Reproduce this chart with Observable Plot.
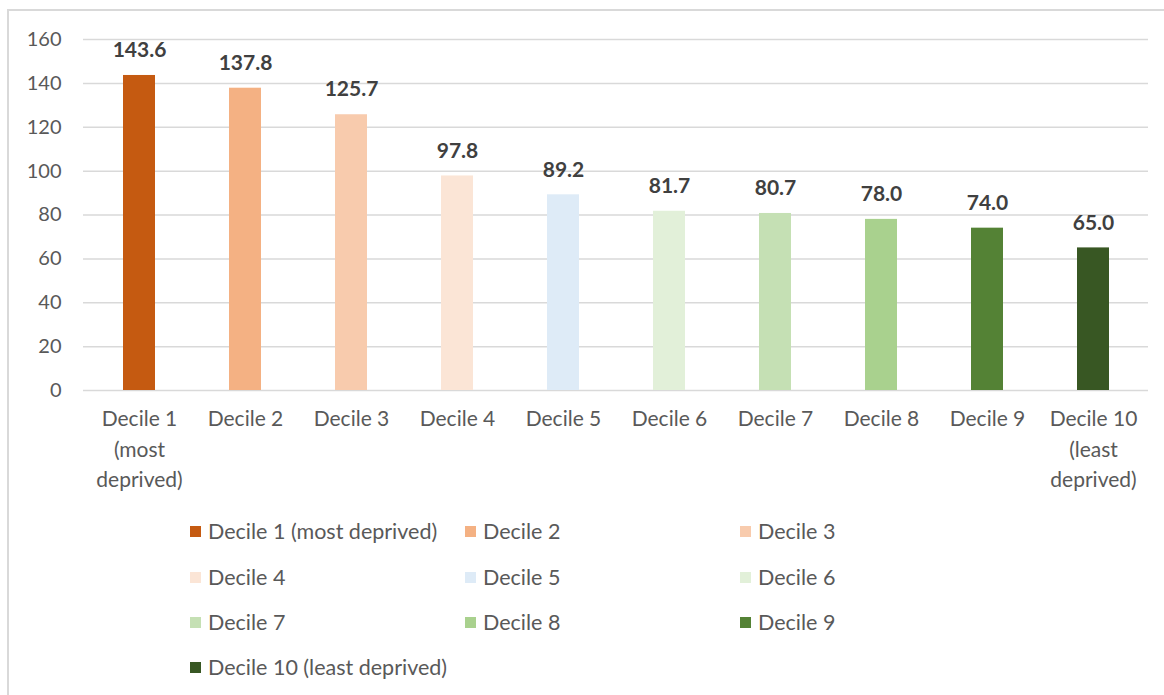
<!DOCTYPE html>
<html>
<head>
<meta charset="utf-8">
<script src="https://cdn.jsdelivr.net/npm/d3@7"></script>
<script src="https://cdn.jsdelivr.net/npm/@observablehq/plot@0.6"></script>
<style>
  html, body { margin: 0; padding: 0; background: #fff; overflow: hidden; width: 1164px; height: 695px; }
  #frame { position: absolute; left: 7px; top: 9px; width: 1300px; height: 900px; border: 2px solid #d9d9d9; box-sizing: border-box; }
  #chart { position: absolute; left: 0; top: 0; }
  #legend { position: absolute; left: 0; top: 0; font-family: Lato, sans-serif; font-size: 21.5px; color: #595959; }
  .item { position: absolute; display: flex; align-items: center; white-space: nowrap; }
  .sw { width: 11px; height: 11px; margin-right: 7px; }
</style>
</head>
<body>
<div id="frame"></div>
<div id="chart"></div>
<div id="legend"></div>
<script>
const categories = ["Decile 1", "Decile 2", "Decile 3", "Decile 4", "Decile 5", "Decile 6", "Decile 7", "Decile 8", "Decile 9", "Decile 10"];
const axisLabels = ["Decile 1\n(most\ndeprived)", "Decile 2", "Decile 3", "Decile 4", "Decile 5", "Decile 6", "Decile 7", "Decile 8", "Decile 9", "Decile 10\n(least\ndeprived)"];
const legendLabels = ["Decile 1 (most deprived)", "Decile 2", "Decile 3", "Decile 4", "Decile 5", "Decile 6", "Decile 7", "Decile 8", "Decile 9", "Decile 10 (least deprived)"];
const values = [143.6, 137.8, 125.7, 97.8, 89.2, 81.7, 80.7, 78.0, 74.0, 65.0];
const colors = ["#C55A11", "#F4B183", "#F8CBAD", "#FBE5D6", "#DEEBF7", "#E2F0D9", "#C5E0B4", "#A9D18E", "#548235", "#385723"];
const yTicks = [0, 20, 40, 60, 80, 100, 120, 140, 160];

const data = categories.map((c, i) => ({cat: c, value: values[i], color: colors[i]}));
const labelOf = new Map(categories.map((c, i) => [c, axisLabels[i]]));

const chart = Plot.plot({
  width: 1164,
  height: 500,
  marginLeft: 83,
  marginRight: 16,
  marginTop: 39,
  marginBottom: 110,
  style: {fontFamily: "Lato, sans-serif", fontSize: "21px", color: "#595959", background: "transparent"},
  x: {domain: categories, paddingInner: 0.7, paddingOuter: 0.35, label: null},
  y: {domain: [0, 160], ticks: yTicks, label: null},
  color: {type: "identity"},
  marks: [
    Plot.gridY(yTicks, {stroke: "#d9d9d9", strokeOpacity: 1, strokeWidth: 1.5}),
    Plot.barY(data, {x: "cat", y: "value", fill: "color"}),
    Plot.text(data, {x: "cat", y: "value", text: d => d.value.toFixed(1), dy: -25, fontWeight: "bold", fill: "#404040", fontSize: 21}),
    Plot.axisY({ticks: yTicks, tickSize: 0, tickPadding: 22, fill: "#595959", fontSize: 20, label: null}),
    Plot.axisX({tickSize: 0, tickPadding: 14, tickFormat: d => labelOf.get(d), lineHeight: 1.45, fill: "#595959", fontSize: 21, label: null})
  ]
});
document.getElementById("chart").appendChild(chart);

const legend = document.getElementById("legend");
const colX = [190, 465, 740];
const rowY = [531, 577, 622, 667];
legendLabels.forEach((lab, i) => {
  const row = Math.floor(i / 3), col = i % 3;
  const item = document.createElement("div");
  item.className = "item";
  item.style.left = colX[col] + "px";
  item.style.top = (rowY[row] - 13) + "px";
  item.style.height = "26px";
  const sw = document.createElement("div");
  sw.className = "sw";
  sw.style.background = colors[i];
  const t = document.createElement("span");
  t.textContent = lab;
  item.appendChild(sw);
  item.appendChild(t);
  legend.appendChild(item);
});
</script>
</body>
</html>
